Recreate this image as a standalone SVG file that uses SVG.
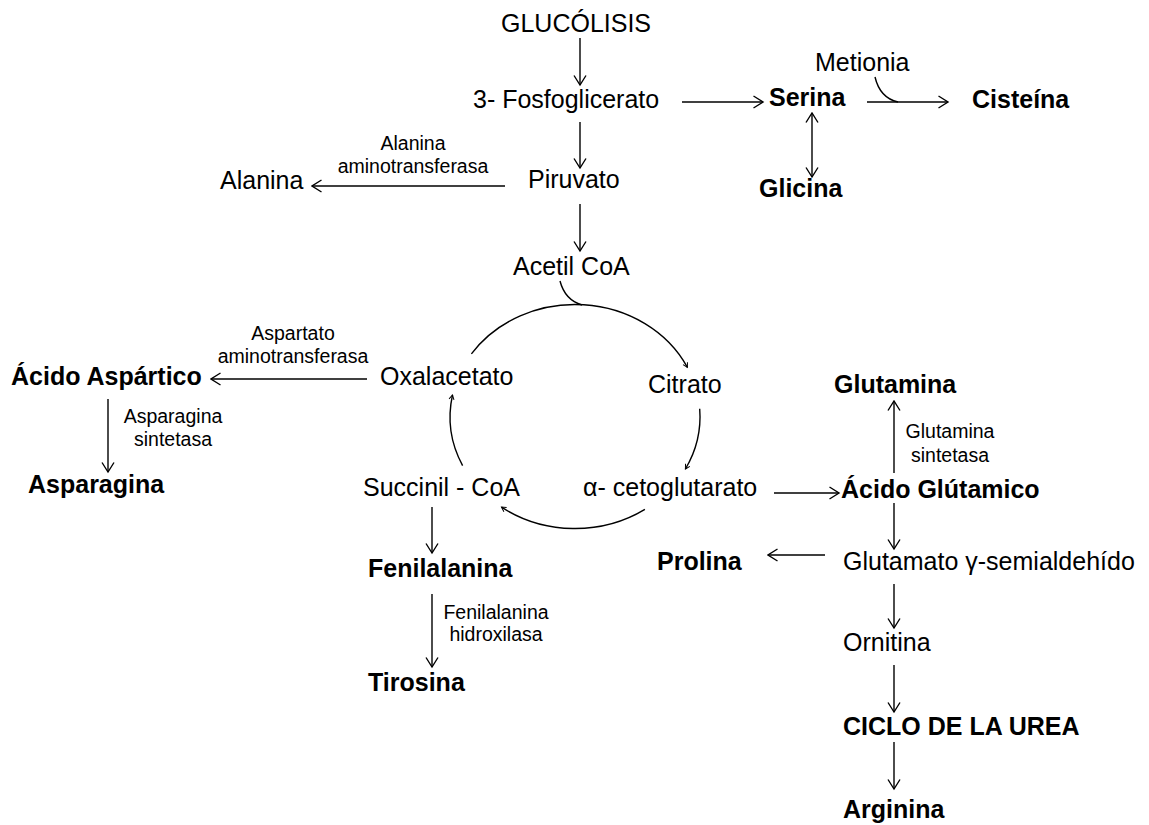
<svg xmlns="http://www.w3.org/2000/svg" width="1149" height="825" viewBox="0 0 1149 825">
<style>
text{font-family:"Liberation Sans",Arial,sans-serif;fill:#000}
.r{font-size:25px}
.b{font-size:25px;font-weight:bold}
.s{font-size:19.5px;text-anchor:middle}
.c{fill:none;stroke:#000;stroke-width:1.4}
</style>
<defs>
<marker id="ah" markerUnits="userSpaceOnUse" viewBox="0 0 12 14" markerWidth="12" markerHeight="14" refX="10.5" refY="7" orient="auto-start-reverse">
<path d="M1,1 L10.5,7 L1,13" fill="none" stroke="#000" stroke-width="1.4"/>
</marker>
<marker id="sh" markerUnits="userSpaceOnUse" viewBox="0 0 7 7" markerWidth="7" markerHeight="7" refX="5.5" refY="3.5" orient="auto">
<path d="M1,1 L5.5,3.5 L1,6" fill="none" stroke="#000" stroke-width="1"/>
</marker>
</defs>
<rect width="1149" height="825" fill="#fff"/>
<g id="connectors">
<path class="c" d="M580,38 L580,85" marker-end="url(#ah)"/>
<path class="c" d="M580,122 L580,168" marker-end="url(#ah)"/>
<path class="c" d="M580,204 L580,251" marker-end="url(#ah)"/>
<path class="c" d="M682,102 L763,102" marker-end="url(#ah)"/>
<path class="c" d="M867,102 L948,102" marker-end="url(#ah)"/>
<path class="c" d="M875,77 Q880,98 898,102"/>
<path class="c" d="M812,113 L812,177" marker-start="url(#ah)" marker-end="url(#ah)"/>
<path class="c" d="M505,186 L312,186" marker-end="url(#ah)"/>
<path class="c" d="M560,281 Q565,300 582,305"/>
<path class="c" d="M471.4,353.9 A125,112 0 0 1 687.4,367.4" marker-end="url(#sh)"/>
<path class="c" d="M699.7,408.7 A125,112 0 0 1 685.4,469" marker-end="url(#sh)"/>
<path class="c" d="M644.9,509.4 A125,112 0 0 1 501.5,507.1" marker-end="url(#sh)"/>
<path class="c" d="M462.6,465.6 A125,112 0 0 1 452.5,395" marker-end="url(#sh)"/>
<path class="c" d="M367,379 L211,379" marker-end="url(#ah)"/>
<path class="c" d="M108,399 L108,472" marker-end="url(#ah)"/>
<path class="c" d="M774,493 L839,493" marker-end="url(#ah)"/>
<path class="c" d="M894,473 L894,401" marker-end="url(#ah)"/>
<path class="c" d="M894,503 L894,549" marker-end="url(#ah)"/>
<path class="c" d="M825,555 L768,555" marker-end="url(#ah)"/>
<path class="c" d="M894,584 L894,628" marker-end="url(#ah)"/>
<path class="c" d="M894,665 L894,712" marker-end="url(#ah)"/>
<path class="c" d="M894,742 L894,789" marker-end="url(#ah)"/>
<path class="c" d="M432,507 L432,553" marker-end="url(#ah)"/>
<path class="c" d="M432,594 L432,667" marker-end="url(#ah)"/>
</g>
<g id="glucolisis"><text class="r" x="501" y="32">GLUCÓLISIS</text></g>
<g id="fosfoglicerato"><text class="r" x="473" y="108">3- Fosfoglicerato</text></g>
<g id="serina"><text class="b" x="769" y="106">Serina</text></g>
<g id="metionia"><text class="r" x="815" y="71">Metionia</text></g>
<g id="cisteina"><text class="b" x="972" y="108">Cisteína</text></g>
<g id="glicina"><text class="b" x="759" y="197">Glicina</text></g>
<g id="piruvato"><text class="r" x="528" y="188">Piruvato</text></g>
<g id="alanina"><text class="r" x="220" y="189">Alanina</text></g>
<g id="alanina-enzima"><text class="s" x="413" y="150">Alanina</text><text class="s" x="413" y="173">aminotransferasa</text></g>
<g id="acetilcoa"><text class="r" x="513" y="275">Acetil CoA</text></g>
<g id="oxalacetato"><text class="r" x="380" y="385">Oxalacetato</text></g>
<g id="aspartato-enzima"><text class="s" x="293" y="340">Aspartato</text><text class="s" x="293" y="363">aminotransferasa</text></g>
<g id="acido-aspartico"><text class="b" x="11" y="385">Ácido Aspártico</text></g>
<g id="asparagina-enzima"><text class="s" x="173" y="423">Asparagina</text><text class="s" x="173" y="446">sintetasa</text></g>
<g id="asparagina"><text class="b" x="28" y="493">Asparagina</text></g>
<g id="citrato"><text class="r" x="648" y="393">Citrato</text></g>
<g id="cetoglutarato"><text class="r" x="583" y="496">α- cetoglutarato</text></g>
<g id="succinilcoa"><text class="r" x="363" y="496">Succinil - CoA</text></g>
<g id="fenilalanina"><text class="b" x="368" y="577">Fenilalanina</text></g>
<g id="fenilalanina-enzima"><text class="s" x="496" y="619">Fenilalanina</text><text class="s" x="496" y="641">hidroxilasa</text></g>
<g id="tirosina"><text class="b" x="368" y="691">Tirosina</text></g>
<g id="glutamina"><text class="b" x="834" y="393">Glutamina</text></g>
<g id="glutamina-enzima"><text class="s" x="950" y="438">Glutamina</text><text class="s" x="950" y="462">sintetasa</text></g>
<g id="acido-glutamico"><text class="b" x="841" y="498">Ácido Glútamico</text></g>
<g id="glutamato"><text class="r" x="843" y="570">Glutamato γ-semialdehído</text></g>
<g id="prolina"><text class="b" x="657" y="570">Prolina</text></g>
<g id="ornitina"><text class="r" x="843" y="651">Ornitina</text></g>
<g id="ciclo-urea"><text class="b" x="843" y="735">CICLO DE LA UREA</text></g>
<g id="arginina"><text class="b" x="843" y="818">Arginina</text></g>
</svg>
